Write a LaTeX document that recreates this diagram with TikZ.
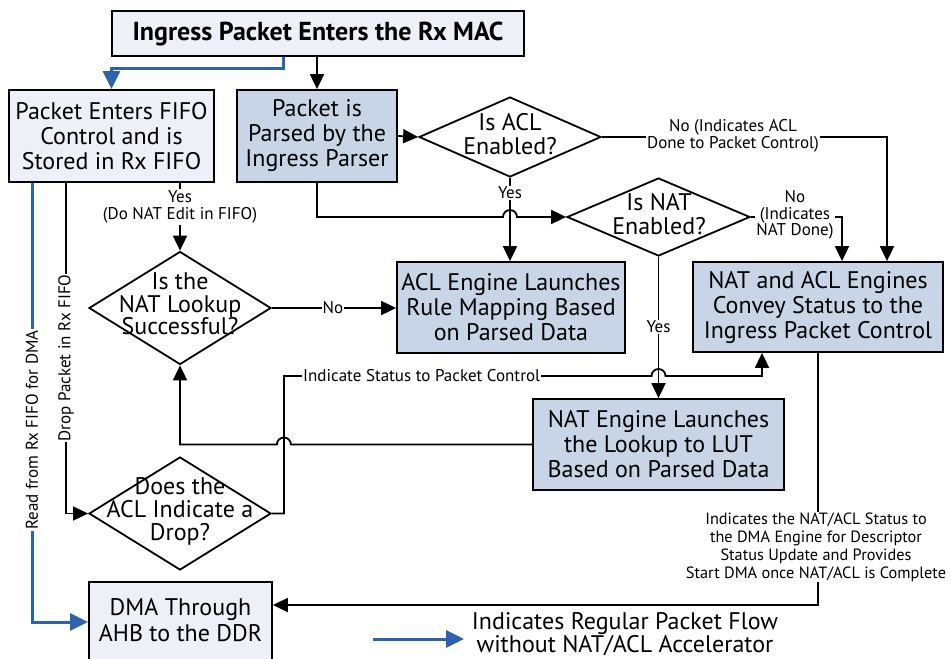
\documentclass[tikz,border=0pt]{standalone}
\usepackage{fontspec}
\setmainfont{PT Sans}
\usetikzlibrary{arrows.meta,shapes.geometric,calc}
\definecolor{lightfill}{HTML}{EDF0F6}
\definecolor{bluefill}{HTML}{C8D5E6}
\definecolor{flowblue}{HTML}{2C62AE}
\begin{document}
\begin{tikzpicture}[x=1pt,y=1pt,
  conn/.style={line width=1.8pt, -{Triangle[length=15pt,width=14pt]}},
  plain/.style={line width=1.8pt},
  flow/.style={draw=flowblue, line width=3pt, -{Triangle[length=18pt,width=17pt]}},
  box/.style={draw, line width=1.8pt, inner sep=0pt, align=center, font=\fontsize{24}{25}\selectfont},
  lbox/.style={box, fill=lightfill},
  bbox/.style={box, fill=bluefill},
  dia/.style={draw, diamond, line width=1.8pt, inner sep=0pt, fill=white},
  dtext/.style={align=center, font=\fontsize{24}{24}\selectfont, inner sep=0pt},
  lab/.style={align=center, fill=white, inner sep=1pt, font=\fontsize{17}{17.5}\selectfont},
]
\useasboundingbox (0,0) rectangle (951,-659);
\fill[white] (0,0) rectangle (951,-659);

% boxes
\node[lbox, minimum width=412pt, minimum height=45pt, font=\fontsize{26}{26}\selectfont\bfseries] (top) at (318,-33.5) {Ingress Packet Enters the Rx MAC};
\node[lbox, minimum width=205pt, minimum height=92pt] (fifo) at (111.5,-136) {Packet Enters FIFO\\Control and is\\Stored in Rx FIFO};
\node[bbox, minimum width=160pt, minimum height=92pt] (parser) at (317,-136) {Packet is\\Parsed by the\\Ingress Parser};
\node[bbox, minimum width=228pt, minimum height=91pt] (aclbox) at (511,-307.5) {ACL Engine Launches\\Rule Mapping Based\\on Parsed Data};
\node[bbox, minimum width=250pt, minimum height=90pt] (natacl) at (818,-307) {NAT and ACL Engines\\Convey Status to the\\Ingress Packet Control};
\node[bbox, minimum width=251pt, minimum height=91pt] (natbox) at (658.5,-444.5) {NAT Engine Launches\\the Lookup to LUT\\Based on Parsed Data};
\node[lbox, minimum width=183pt, minimum height=80pt, text depth=0pt] (dma) at (180.5,-622) {};
\node[dtext, font=\fontsize{24}{26}\selectfont] (dmat) at (180.5,-620) {DMA Through\\AHB to the DDR};

% diamonds
\node[dia, minimum width=182pt, minimum height=80pt] (acld) at (510,-137) {};
\node[dtext] (acldt) at (510,-134) {Is ACL\\Enabled?};
\node[dia, minimum width=183pt, minimum height=78pt] (natd) at (658.5,-217) {};
\node[dtext] (natdt) at (659,-214) {Is NAT\\Enabled?};
\node[dia, minimum width=182pt, minimum height=113pt] (lookd) at (180,-308) {};
\node[dtext, font=\fontsize{24}{22.5}\selectfont] (lookdt) at (180,-304) {Is the\\NAT Lookup\\Successful?};
\node[dia, minimum width=182pt, minimum height=113pt] (dropd) at (180,-513.5) {};
\node[dtext, font=\fontsize{24}{23}\selectfont] (dropdt) at (180,-511) {Does the\\ACL Indicate a\\Drop?};

% helper coordinates
\coordinate (hopA) at ($(acld.south |- natd.west)+(-7,0)$);
\coordinate (dropx) at ($(dropd.east)+(12,0)$);
\coordinate (hopB) at ($(natd.south |- 0,-376)+(-7,0)$);
\coordinate (hopC) at ($(dropx |- natbox.west)+(7,0)$);
\coordinate (legA) at (373,-639);
\coordinate (legB) at (464,-639);

% connectors
\draw[flow] ([xshift=-35pt]top.south) -- ++(0,-12) -| (fifo.north);
\draw[conn] (top.south -| parser.north) -- (parser.north);
\draw[conn] (parser.east) -- (acld.west);
\draw[conn] (acld.east) -| ([xshift=69pt]natacl.north);
\draw[conn] (acld.south) -- (acld.south |- aclbox.north);
\draw[conn] (parser.south) |- (hopA) arc[start angle=180,end angle=0,radius=7] -- (natd.west);
\draw[conn] (natd.east) -| ([xshift=24pt]natacl.north);
\draw[conn] (natd.south) -- (natbox.north);
\draw[conn] (lookd.east) -- (lookd.east -| aclbox.west);
\draw[conn] (fifo.south -| lookd.north) -- (lookd.north);
\draw[conn] ([xshift=-45.5pt]fifo.south) |- (dropd.west);
\draw[flow] ([xshift=-79.5pt]fifo.south) |- (dma.west);
\draw[conn] (dropd.east) -- (dropx) |- (hopB) arc[start angle=180,end angle=0,radius=7] -| ([xshift=-56pt]natacl.south);
\draw[conn] (natbox.west) -- (hopC) arc[start angle=0,end angle=180,radius=7] -- (lookd.south |- natbox.west) -- (lookd.south);
\draw[conn] (natacl.south) |- ([yshift=17pt]dma.east);
\draw[flow] (legA) -- (legB);

% labels
\node[lab] (l1) at (180,-207) {Yes\\(Do NAT Edit in FIFO)};
\node[lab] (l2) at (733,-136) {No (Indicates ACL\\Done to Packet Control)};
\node[lab] (l3) at (510,-193) {Yes};
\node[lab, font=\fontsize{17}{16.5}\selectfont] (l4) at (795,-215) {No\\(Indicates\\NAT Done)};
\node[lab] (l5) at (658.5,-327) {Yes};
\node[lab] (l6) at (333,-308) {No};
\node[lab, anchor=west] (l7) at (302,-376) {Indicate Status to Packet Control};
\node[lab, rotate=90] (l8) at (66,-358) {Drop Packet in Rx FIFO};
\node[lab, rotate=90] (l9) at (32,-430) {Read from Rx FIFO for DMA};
\node[lab, font=\fontsize{16.3}{18}\selectfont] (l10) at (816,-547) {Indicates the NAT/ACL Status to\\the DMA Engine for Descriptor\\Status Update and Provides\\Start DMA once NAT/ACL is Complete};
\node[align=center, inner sep=0pt, font=\fontsize{24}{22}\selectfont] (legt) at (625,-634) {Indicates Regular Packet Flow\\without NAT/ACL Accelerator};
\end{tikzpicture}
\end{document}
